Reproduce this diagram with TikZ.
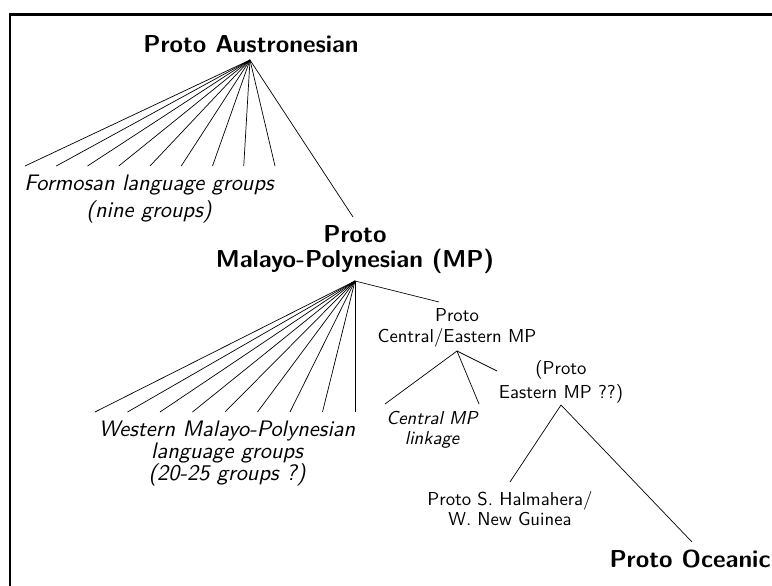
\documentclass[tikz,border=0pt]{standalone}
\usepackage{fontspec}
\setsansfont{lmsans10-regular.otf}[BoldFont=lmsans10-bold.otf,ItalicFont=lmsans10-oblique.otf,BoldItalicFont=lmsans10-boldoblique.otf]
\begin{document}
\begin{tikzpicture}[x=1pt,y=-1pt,line width=0.7pt,
		bigname/.style={font=\sffamily\bfseries\fontsize{24.5}{25}\selectfont,align=center,inner sep=0pt,anchor=north},
		midname/.style={font=\sffamily\fontsize{18.7}{21.5}\selectfont,align=center,inner sep=0pt,anchor=north},
		grpname/.style={font=\sffamily\itshape\fontsize{22.4}{22}\selectfont,align=center,inner sep=0pt,anchor=north}]
	\clip (0,0) rectangle (772,586);
	\draw[line width=2.7pt] (10,14.7) rectangle (800,620);
	\node[bigname] (pa) at (251,35) {Proto Austronesian};
	\node[grpname,font=\sffamily\itshape\fontsize{22.4}{27}\selectfont] (formosan) at (149,174.5) {Formosan language groups\\(nine groups)};
	\node[bigname] (pmp) at (355,225) {Proto\\Malayo-Polynesian (MP)};
	\node[grpname] (wmp) at (227,421) {Western Malayo-Polynesian\\language groups\\(20-25 groups ?)};
	\node[midname] (pce) at (457,308) {Proto\\Central/Eastern MP};
	\node[grpname,font=\sffamily\itshape\fontsize{18.7}{20}\selectfont] (cmp) at (432,411) {Central MP\\linkage};
	\node[midname,font=\sffamily\fontsize{18.7}{24}\selectfont] (pemp) at (561,360) {(Proto\\Eastern MP ??)};
	\node[midname,font=\sffamily\fontsize{18.7}{20}\selectfont] (hal) at (510,491) {Proto S. Halmahera/\\W. New Guinea};
	\node[bigname] (po) at (690,550) {Proto Oceanic};
	\coordinate (paroot) at (250,60);
	\coordinate (pmproot) at (355,281);
	\coordinate (pceroot) at (457,351);
	\coordinate (pemproot) at (561,405);
	\foreach \i in {0,...,8} {
		\coordinate (fm\i) at ({25+31.25*\i},166);
		\draw (paroot) -- (fm\i);
		\coordinate (wm\i) at ({95+32.5*\i},412);
		\draw (pmproot) -- (wm\i);
	}
	\draw (paroot) -- (353,217) coordinate (pmptop);
	\draw (pmproot) -- (439,302) coordinate (pcetop);
	\draw (385,404) coordinate (cmpleft) -- (pceroot) -- (479,404) coordinate (cmpright);
	\draw (pceroot) -- (497,371) coordinate (pempleft);
	\draw (hal.north) ++(0,-9) coordinate (haltop) -- (pemproot) -- (692,542) coordinate (potop);
\end{tikzpicture}
\end{document}
